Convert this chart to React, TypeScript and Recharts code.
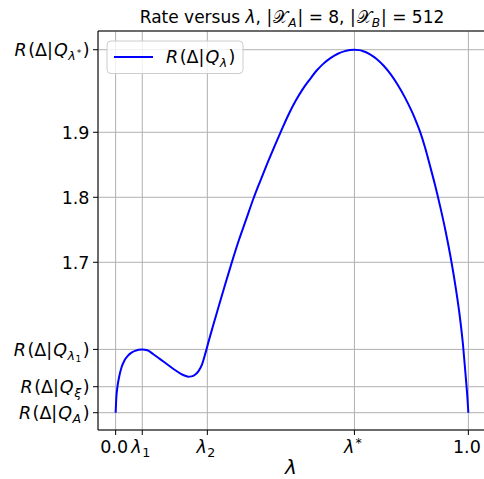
import React from 'react';
import { LineChart, Line, XAxis, YAxis, CartesianGrid, ReferenceLine } from 'recharts';

const lambdaValues = [
  0, 0.002, 0.005, 0.01, 0.017, 0.025, 0.035, 0.045, 0.055, 0.065, 0.0755, 0.09, 0.107, 0.125,
  0.145, 0.165, 0.185, 0.197, 0.206, 0.215, 0.225, 0.235, 0.245, 0.255, 0.265, 0.275, 0.29,
  0.31, 0.33, 0.35, 0.37, 0.39, 0.41, 0.43, 0.45, 0.47, 0.49, 0.51, 0.53, 0.55, 0.57, 0.59,
  0.61, 0.63, 0.65, 0.665, 0.677, 0.69, 0.7, 0.72, 0.74, 0.76, 0.78, 0.8, 0.82, 0.84, 0.852,
  0.863, 0.877, 0.891, 0.905, 0.92, 0.935, 0.95, 0.965, 0.975, 0.985, 0.993, 0.997, 1.0,
];
const rateValues = [
  1.4686, 1.492, 1.508, 1.524, 1.539, 1.549, 1.5565, 1.561, 1.5638, 1.5655, 1.566, 1.5647,
  1.5585, 1.5515, 1.5435, 1.5355, 1.5285, 1.5255, 1.524, 1.5245, 1.527, 1.5325, 1.543, 1.561,
  1.581, 1.6, 1.628, 1.665, 1.701, 1.735, 1.766, 1.797, 1.825, 1.852, 1.878, 1.903, 1.927,
  1.948, 1.966, 1.981, 1.995, 2.006, 2.0145, 2.0208, 2.0248, 2.0264, 2.027, 2.0264, 2.0251,
  2.0204, 2.0128, 2.0023, 1.989, 1.9727, 1.9537, 1.9317, 1.9165, 1.901, 1.877, 1.849, 1.82,
  1.786, 1.749, 1.707, 1.658, 1.62, 1.572, 1.521, 1.494, 1.4686,
];
const xTickValues = [0, 0.0755, 0.26, 0.677, 1.0];
const yTickValues = [1.4686, 1.5086, 1.566, 1.7, 1.8, 1.9, 2.027];
const xDomain = [-0.05, 1.05];
const yDomain = [1.442, 2.0558];

type Part = { t: string; it?: boolean; fs?: number; sh?: number; dx?: number };

const SUB = 0.72;

const xTickLabels: Part[][] = [
  [{ t: '0.0' }],
  [{ t: 'λ', it: true }, { t: '1', fs: SUB, sh: 0.22, dx: 0.5 }],
  [{ t: 'λ', it: true }, { t: '2', fs: SUB, sh: 0.22, dx: 0.5 }],
  [{ t: 'λ', it: true }, { t: '*', fs: SUB, sh: -0.35, dx: 1 }],
  [{ t: '1.0' }],
];

const rq = (sub: Part[]): Part[] => [
  { t: 'R', it: true },
  { t: '(Δ|', dx: 1.5 },
  { t: 'Q', it: true, dx: 1 },
  ...sub,
  { t: ')', sh: 0, dx: 1.5 },
];

const yTickLabels: Part[][] = [
  rq([{ t: 'A', it: true, fs: SUB, sh: 0.22, dx: 0.5 }]),
  rq([{ t: 'ξ', it: true, fs: SUB, sh: 0.22, dx: 0.5 }]),
  rq([{ t: 'λ', it: true, fs: SUB, sh: 0.22, dx: 0.5 }, { t: '1', fs: 0.52, sh: 0.36, dx: 0.5 }]),
  [{ t: '1.7' }],
  [{ t: '1.8' }],
  [{ t: '1.9' }],
  rq([{ t: 'λ', it: true, fs: SUB, sh: 0.22, dx: 0.5 }, { t: '*', fs: 0.52, sh: -0.02, dx: 1 }]),
];

const titleParts: Part[] = [
  { t: 'Rate versus ' },
  { t: 'λ', it: true },
  { t: ', |' },
  { t: '𝒳', dx: 1 },
  { t: 'A', it: true, fs: SUB, sh: 0.22 },
  { t: '| = 8, |', sh: 0, dx: 1 },
  { t: '𝒳', dx: 1 },
  { t: 'B', it: true, fs: SUB, sh: 0.22 },
  { t: '| = 512', sh: 0, dx: 1 },
];

const legendParts: Part[] = rq([{ t: 'λ', it: true, fs: SUB, sh: 0.22, dx: 0.5 }]);

const FONT = 'DejaVu Sans';
const TICK_FS = 17.5;

function MathText({ x, y, parts, size, anchor }: { x: number; y: number; parts: Part[]; size: number; anchor: string }) {
  let prev = 0;
  return (
    <text x={x} y={y} textAnchor={anchor as any} fontFamily={FONT} fontSize={size} fill="#000">
      {parts.map((p, k) => {
        const sh = (p.sh || 0) * size;
        const dy = sh - prev;
        prev = sh;
        return (
          <tspan key={k} dy={dy} dx={p.dx || 0} fontSize={(p.fs || 1) * size} fontStyle={p.it ? 'italic' : 'normal'}>
            {p.t}
          </tspan>
        );
      })}
    </text>
  );
}

const XTick = (props: any) => {
  const { x, y, index } = props;
  return <MathText x={x - 1.5} y={y + 16} parts={xTickLabels[index]} size={TICK_FS} anchor="middle" />;
};

const YTick = (props: any) => {
  const { x, y, index } = props;
  return <MathText x={x - 1.5} y={y + 6.3} parts={yTickLabels[index]} size={TICK_FS} anchor="end" />;
};

const chartData = lambdaValues.map((l, i) => ({ lambda: l, rate: rateValues[i] }));

export default function App() {
  return (
    <div style={{ position: 'absolute', left: 0, top: 0, width: 484, height: 479, overflow: 'hidden', background: '#fff' }}>
      <LineChart width={490} height={479} data={chartData} margin={{ top: 31, right: 4, left: 0, bottom: 0 }}>
        <CartesianGrid stroke="#b0b0b0" strokeWidth={1} />
        <XAxis
          dataKey="lambda"
          type="number"
          domain={xDomain}
          ticks={xTickValues}
          interval={0}
          allowDataOverflow
          height={49}
          tickSize={5}
          tickMargin={2}
          axisLine={{ stroke: '#000', strokeWidth: 1 }}
          tickLine={{ stroke: '#000', strokeWidth: 1 }}
          tick={<XTick />}
        />
        <YAxis
          type="number"
          domain={yDomain}
          ticks={yTickValues}
          interval={0}
          allowDataOverflow
          width={98}
          tickSize={5}
          tickMargin={2}
          axisLine={{ stroke: '#000', strokeWidth: 1 }}
          tickLine={{ stroke: '#000', strokeWidth: 1 }}
          tick={<YTick />}
        />
        <Line
          type="monotone"
          dataKey="rate"
          stroke="#0000ff"
          strokeWidth={2}
          dot={false}
          isAnimationActive={false}
        />
        <ReferenceLine y={yDomain[1]} stroke="#000" strokeWidth={1} />
        <ReferenceLine x={xDomain[1]} stroke="#000" strokeWidth={1} />
      </LineChart>
      <svg
        width={484}
        height={479}
        style={{ position: 'absolute', left: 0, top: 0, pointerEvents: 'none' }}
      >
        <MathText x={292} y={23} parts={titleParts} size={17} anchor="middle" />
        <rect x={107} y={41} width={136} height={32.5} rx={4} fill="#ffffff" fillOpacity={0.8} stroke="#cccccc" strokeWidth={1} />
        <line x1={114} y1={57} x2={153} y2={57} stroke="#0000ff" strokeWidth={2} />
        <MathText x={166} y={63} parts={legendParts} size={TICK_FS} anchor="start" />
        <text x={291} y={474} textAnchor="middle" fontFamily={FONT} fontSize={20} fontStyle="italic" fill="#000">
          λ
        </text>
      </svg>
    </div>
  );
}
